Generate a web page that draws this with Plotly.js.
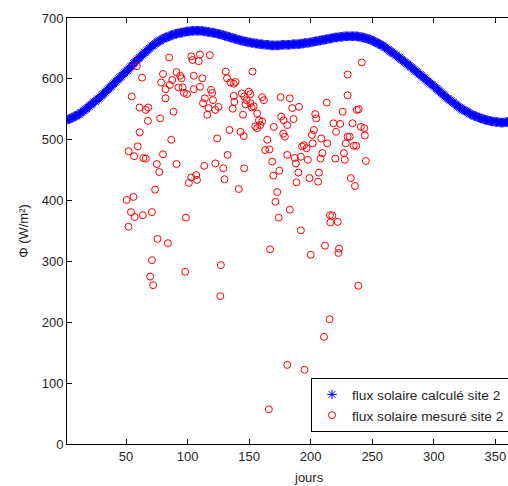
<!DOCTYPE html>
<html>
<head>
<meta charset="utf-8">
<script src="https://cdn.plot.ly/plotly-3.0.1.min.js"></script>
<style>
html, body { margin: 0; padding: 0; overflow: hidden; background: #fff; width: 508px; height: 486px; }
#chart { width: 515px; height: 486px; }
</style>
</head>
<body>
<div id="chart"></div>
<script>
// Computed solar flux, one value per day starting at day 1
const computedFlux = [
532,533,533,534,535,536,537,538,539,540,
541,542,544,545,547,548,550,551,553,555,
557,558,560,562,563,565,567,568,570,572,
574,576,578,580,582,584,586,588,590,592,
594,596,598,600,602,604,606,608,610,612,
614,616,618,620,622,625,627,629,631,633,
635,637,639,641,643,644,646,648,650,652,
654,655,657,658,660,661,662,663,665,666,
667,668,668,669,670,671,672,672,673,674,
674,675,675,676,676,676,677,677,678,678,
678,678,679,679,679,679,679,679,679,679,
679,679,678,678,678,677,677,677,676,676,
676,675,675,674,674,673,673,672,672,671,
670,670,669,669,668,667,667,666,666,665,
664,664,663,663,662,662,661,661,660,660,
660,659,659,659,658,658,658,657,657,657,
657,656,656,656,656,656,655,655,655,655,
655,655,655,655,655,656,656,656,656,656,
656,656,656,656,657,657,657,657,657,657,
657,658,658,658,659,659,659,659,660,660,
660,661,661,662,662,662,663,663,664,664,
664,665,665,666,666,666,667,667,668,668,
668,668,669,669,669,669,670,670,670,670,
670,670,670,670,670,670,670,670,669,669,
669,668,668,667,667,666,665,665,664,663,
662,661,660,659,658,657,656,655,654,652,
651,649,648,646,645,644,642,641,639,638,
636,635,633,632,630,628,627,625,624,622,
620,619,617,615,613,612,610,608,607,605,
603,602,600,598,596,595,593,591,590,588,
586,584,583,581,579,577,575,574,572,570,
568,567,565,564,562,561,559,558,556,554,
553,552,550,549,548,547,546,545,543,542,
541,540,539,539,538,537,536,535,535,534,
533,533,532,532,531,531,530,530,530,529,
529,529,529,528,528,528,528,529,529,529,
529,530,530,531,531
];

// Measured solar flux
const measuredDays = [
50.5,52,52,54,54.6,56,56.5,57,58.7,59.5,61,61,63,63.6,64,66,66,67.7,68,69.6,
71,71,72,73.6,75,75.5,77,77.7,78.5,80,80,82,82,84,85,85.5,86.7,87.5,88.5,91,
91,92.6,94,95,96,97,98,98.6,99.5,101,103,103,104,105,105,107,107.6,109,110,110,
112,112.5,113.5,114,116,117,118,119,120,120.6,122.5,122.5,124,125,126.6,127,129,130,131,132,
132.5,134,135,137.5,139,137.5,138,136.6,141.5,143,144,145,145.6,146,146,148,147,149.7,151,151,
152,152.7,153.7,155,156.5,156.5,158,159,160.6,160.6,162,163,164.7,166.5,166,167,168.7,169.6,170,171.4,
172.8,174,174.5,175.5,176,177.7,178,179,181,181,181,183,183,185,186,187,188,188.5,190,190.5,
192,192,193,194.5,195,196.7,197.7,199,200,201,202.6,201.6,203.7,204.6,206,206.7,208,209.5,208.6,210.8,
211.6,213,213.5,215.4,215.7,217.6,216,218.5,220.6,220,222,222.5,223,224,226,227,227.7,228.5,230,230,
230,231.7,232.6,234,235,236,237,237.5,238.7,239,240.7,241.5,243.5,244,244.8
];
const measuredFlux = [
401,357,481,381,571,406,473,373,621,489,512,553,602,376,470,469,549,531,553,275,
302,381,261,418,460,337,447,535,594,476,608,583,568,330,635,590,500,598,546,611,
460,586,605,601,586,577,283,372,575,429,438,637,631,605,583,442,434,629,640,587,
601,560,457,568,541,552,639,582,577,565,549,461,502,554,243,294,453,435,612,601,
475,516,594,592,595,572,562,551,419,513,576,541,506,453,571,565,558,579,575,560,
553,612,555,522,519,543,532,524,530,570,565,483,500,484,57,320,464,441,521,398,
414,372,449,570,538,510,532,505,524,475,130,568,385,552,534,470,461,430,446,554,
472,351,489,491,122,486,467,437,311,508,516,494,542,535,431,446,469,478,502,176,
326,561,494,205,376,375,364,527,513,469,365,314,321,526,546,478,467,494,607,573,
505,505,437,527,490,424,490,549,260,550,521,627,519,507,465
];

const xTicks = [50, 100, 150, 200, 250, 300, 350];
const yTicks = [0, 100, 200, 300, 400, 500, 600, 700];

const FONT = 'Liberation Sans, Arial, sans-serif';
const TXT = '#262626';

const traces = [
  {
    type: 'scatter', mode: 'markers',
    name: 'flux solaire calculé site 2',
    x0: 1, dx: 1, y: computedFlux,
    marker: { symbol: 'asterisk-open', size: 8, color: '#0000ff', line: { color: '#0000ff', width: 1 } }
  },
  {
    type: 'scatter', mode: 'markers',
    name: 'flux solaire mesuré site 2',
    x: measuredDays, y: measuredFlux,
    marker: { symbol: 'circle-open', size: 7, color: '#ff0000', line: { color: '#ff0000', width: 1 } }
  }
];

const axisBase = {
  showgrid: false, zeroline: false,
  showline: true, linecolor: '#000', linewidth: 1,
  mirror: 'ticks', ticks: 'inside', ticklen: 5, tickcolor: '#000',
  tickfont: { family: FONT, size: 13, color: TXT }
};

const layout = {
  width: 515, height: 486,
  margin: { l: 67, r: 0, t: 18, b: 42 },
  paper_bgcolor: '#fff', plot_bgcolor: '#fff',
  showlegend: true,
  xaxis: Object.assign({}, axisBase, { range: [2, 366], tickmode: 'array', tickvals: xTicks, ticktext: xTicks.map(String) }),
  yaxis: Object.assign({}, axisBase, {
    range: [0, 700], tickmode: 'array', tickvals: yTicks, ticktext: yTicks.map(String),
    title: { text: 'Φ (W/m²)', font: { family: FONT, size: 13, color: TXT }, standoff: 10 }
  }),
  legend: {
    x: 0.5446, y: 0.0282, xanchor: 'left', yanchor: 'bottom',
    bgcolor: '#fff', bordercolor: '#000', borderwidth: 1,
    font: { family: FONT, size: 13.7, color: TXT }
  },
  annotations: [
    { text: 'jours', xref: 'paper', yref: 'paper', x: 0.540, y: -0.0798, xanchor: 'center', yanchor: 'middle',
      showarrow: false, font: { family: FONT, size: 13, color: TXT } }
  ]
};

Plotly.newPlot('chart', traces, layout, { displayModeBar: false, staticPlot: true });
</script>
</body>
</html>
